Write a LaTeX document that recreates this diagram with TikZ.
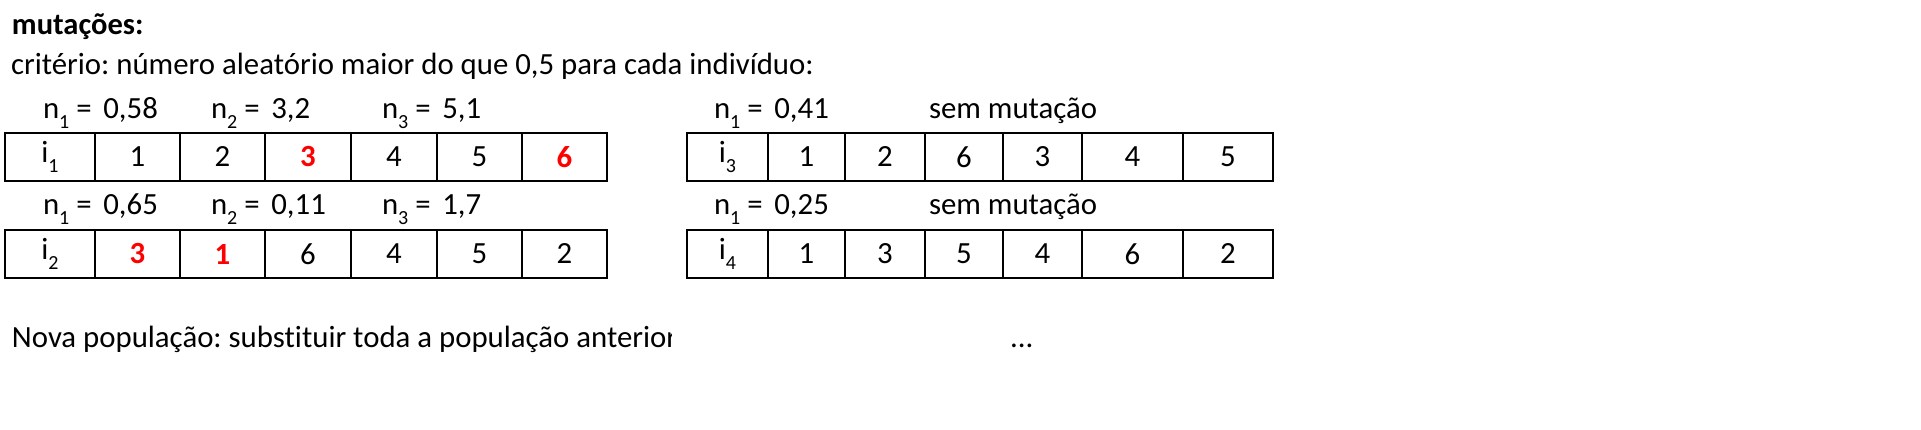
\documentclass[tikz,border=0pt]{standalone}
\usepackage{fontspec}
\setmainfont[Ligatures={NoCommon,NoContextual}]{Carlito}
\frenchspacing
\newcommand\mysub[1]{\raisebox{-0.32em}{\fontsize{20}{20}\selectfont #1}}
\begin{document}
\begin{tikzpicture}[x=1pt,y=-1pt,
  txt/.style={anchor=base west,inner sep=0pt,outer sep=0pt,font=\fontsize{30.8}{36}\selectfont},
  cell/.style={draw=black,line width=2.8pt,inner sep=0pt,minimum height=48pt,font=\fontsize{30.8}{36}\selectfont},
  mut/.style={font=\fontsize{30.8}{36}\selectfont\bfseries,text=red}]
\useasboundingbox[fill=white] (0,0) rectangle (1921,430);
\node[txt,font=\fontsize{30.5}{36}\selectfont\bfseries] (title) at (12,35) {mutações:};
\node[txt] (crit) at (11,75) {critério: número aleatório maior do que 0,5 para cada indivíduo:};
% labels row 1
\node[txt] (a1) at (43,119) {n\mysub{1} =\hspace{0.38em}0,58};
\node[txt] (a2) at (211,119) {n\mysub{2} =\hspace{0.38em}3,2};
\node[txt] (a3) at (382,119) {n\mysub{3} =\hspace{0.38em}5,1};
\node[txt] (b1) at (714,119) {n\mysub{1} =\hspace{0.38em}0,41};
\node[txt] (b2) at (929,119) {sem mutação};
% labels row 2
\node[txt] (c1) at (43,215) {n\mysub{1} =\hspace{0.38em}0,65};
\node[txt] (c2) at (211,215) {n\mysub{2} =\hspace{0.38em}0,11};
\node[txt] (c3) at (382,215) {n\mysub{3} =\hspace{0.38em}1,7};
\node[txt] (d1) at (714,215) {n\mysub{1} =\hspace{0.38em}0,25};
\node[txt] (d2) at (929,215) {sem mutação};
% table i1
\foreach \a/\b/\t/\s [count=\k] in {5/95/{i\mysub{1}}/cell,95/180/1/cell,180/265/2/cell,265/351/3/mut,351/437/4/cell,437/522/5/cell,522/607/6/mut}{
  \pgfmathsetmacro\w{\b-\a}
  \node[cell,\s,minimum width=\w pt] (ta\k) at ({(\a+\b)/2},157) {\t};
}
% table i2
\foreach \a/\b/\t/\s [count=\k] in {5/95/{i\mysub{2}}/cell,95/180/3/mut,180/265/1/mut,265/351/6/cell,351/437/4/cell,437/522/5/cell,522/607/2/cell}{
  \pgfmathsetmacro\w{\b-\a}
  \node[cell,\s,minimum width=\w pt] (tb\k) at ({(\a+\b)/2},254) {\t};
}
% table i3
\foreach \a/\b/\t [count=\k] in {687/768/{i\mysub{3}},768/845/1,845/925/2,925/1003/6,1003/1082/3,1082/1183/4,1183/1273/5}{
  \pgfmathsetmacro\w{\b-\a}
  \node[cell,minimum width=\w pt] (tc\k) at ({(\a+\b)/2},157) {\t};
}
% table i4
\foreach \a/\b/\t [count=\k] in {687/768/{i\mysub{4}},768/845/1,845/925/3,925/1003/5,1003/1082/4,1082/1183/6,1183/1273/2}{
  \pgfmathsetmacro\w{\b-\a}
  \node[cell,minimum width=\w pt] (td\k) at ({(\a+\b)/2},254) {\t};
}
\begin{scope}
\clip (0,300) rectangle (671,400);
\node[txt] (nova) at (12,347) {Nova população: substituir toda a população anterior};
\end{scope}
\node[txt] (dots) at (1010,347) {...};
\end{tikzpicture}
\end{document}
